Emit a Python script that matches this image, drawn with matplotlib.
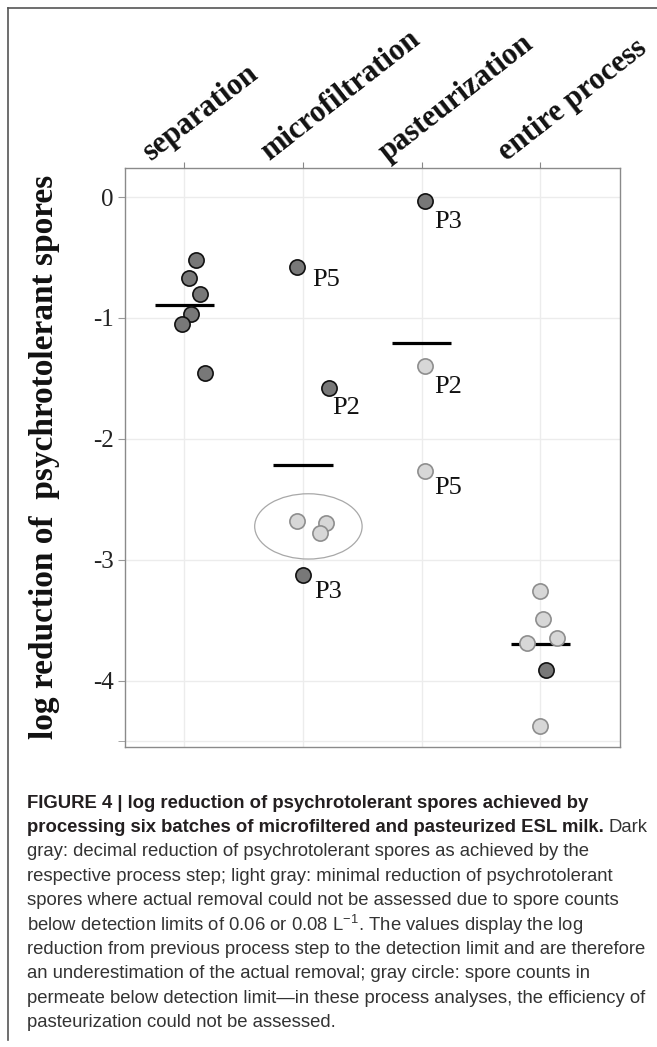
import matplotlib
matplotlib.use("Agg")
import matplotlib.pyplot as plt
import matplotlib.transforms as mtransforms
from matplotlib.patches import Ellipse
from matplotlib.lines import Line2D

# data (log reduction per process step)
categories = ["separation", "microfiltration", "pasteurization", "entire process"]

sep_values = [-0.52, -0.67, -0.80, -0.97, -1.05, -1.46]
sep_kind = ["dark"] * 6
sep_labels = [""] * 6

mf_values = [-0.58, -1.58, -2.68, -2.70, -2.78, -3.13]
mf_kind = ["dark", "dark", "light", "light", "light", "dark"]
mf_labels = ["P5", "P2", "", "", "", "P3"]

past_values = [-0.03, -1.40, -2.27]
past_kind = ["dark", "light", "light"]
past_labels = ["P3", "P2", "P5"]

ent_values = [-3.26, -3.49, -3.65, -3.69, -3.91, -4.38]
ent_kind = ["light", "light", "light", "light", "dark", "light"]
ent_labels = [""] * 6

means = [-0.89, -2.22, -1.21, -3.70]

# horizontal jitter of the points, as drawn
sep_jitter = [0.10, 0.04, 0.13, 0.06, -0.02, 0.175]
mf_jitter = [-0.05, 0.215, -0.05, 0.19, 0.14, 0.0]
past_jitter = [0.025, 0.025, 0.025]
ent_jitter = [0.0, 0.02, 0.14, -0.11, 0.05, 0.0]

# label offsets (pixels right, pixels down) from the point
label_offsets = {
    (1, "P5"): (15, 13), (1, "P2"): (4, 20), (1, "P3"): (11, 17),
    (2, "P3"): (9, 21), (2, "P2"): (9, 21), (2, "P5"): (9, 17),
}

caption_bold = [
    "FIGURE 4 | log reduction of psychrotolerant spores achieved by",
    "processing six batches of microfiltered and pasteurized ESL milk.",
]
caption_rest = [
    "gray: decimal reduction of psychrotolerant spores as achieved by the",
    "respective process step; light gray: minimal reduction of psychrotolerant",
    "spores where actual removal could not be assessed due to spore counts",
    "below detection limits of 0.06 or 0.08 L$^{-1}$. The values display the log",
    "reduction from previous process step to the detection limit and are therefore",
    "an underestimation of the actual removal; gray circle: spore counts in",
    "permeate below detection limit\u2014in these process analyses, the efficiency of",
    "pasteurization could not be assessed.",
]

plt.rcParams["mathtext.fontset"] = "custom"
plt.rcParams["mathtext.rm"] = "Liberation Sans"

W, H = 657, 1047
fig = plt.figure(figsize=(W / 100, H / 100), dpi=100)
ax = fig.add_axes([125 / W, 1 - 747 / H, (620 - 125) / W, (747 - 168) / H])

PX = 0.72  # points per pixel
styles = {
    "dark": dict(facecolor="#787878", edgecolor="#111111"),
    "light": dict(facecolor="#d7d7d7", edgecolor="#8e8e8e"),
}

groups = [
    (sep_values, sep_kind, sep_labels, sep_jitter),
    (mf_values, mf_kind, mf_labels, mf_jitter),
    (past_values, past_kind, past_labels, past_jitter),
    (ent_values, ent_kind, ent_labels, ent_jitter),
]

# mean bars
for i, m in enumerate(means):
    ax.plot([i + 1 - 0.25, i + 1 + 0.25], [m, m], color="black", lw=2.3,
            solid_capstyle="butt", zorder=3)

# ellipse around the light microfiltration points
ax.add_patch(Ellipse((2.045, -2.725), 0.905, 0.54, fill=False,
                     edgecolor="#a8a8a8", lw=0.9, zorder=2))

for i, (vals, kinds, labels, jit) in enumerate(groups):
    for v, k, lab, j in zip(vals, kinds, labels, jit):
        x = i + 1 + j
        ax.scatter([x], [v], s=120, linewidths=1.2, zorder=4, **styles[k])
        if lab:
            dx, dy = label_offsets[(i, lab)]
            ax.annotate(lab, (x, v), xytext=(dx * PX, -dy * PX),
                        textcoords="offset points", ha="left", va="center",
                        family="Liberation Serif", fontsize=19, color="#111111")

ax.set_xlim(0.5, 4.67)
ax.set_ylim(-4.55, 0.24)
ax.set_yticks([0, -1, -2, -3, -4])
ax.set_yticklabels(["0", "-1", "-2", "-3", "-4"], family="Liberation Serif",
                   fontsize=18, color="#222222")
ax.set_yticks([-4.5], minor=True)
ax.set_xticks(range(1, 5))
ax.tick_params(axis="x", which="both", bottom=False, labelbottom=False,
               top=True, labeltop=False, length=4, color="#888888")
ax.tick_params(axis="y", which="both", length=5, color="#999999", pad=3)
ax.grid(True, which="both", color="#ececec", lw=1, zorder=0)
ax.set_axisbelow(True)
for sp in ax.spines.values():
    sp.set_color("#8a8a8a")
    sp.set_linewidth(1.0)

# category labels above the panel, rotated
for i, cat in enumerate(categories):
    tr = mtransforms.blended_transform_factory(ax.transData, ax.transAxes) + \
        mtransforms.ScaledTranslation(-34 / 100, 7 / 100, fig.dpi_scale_trans)
    ax.text(i + 1, 1, cat, transform=tr, rotation=38, rotation_mode="anchor",
            ha="left", va="baseline", family="Liberation Serif",
            fontweight="bold", fontsize=22, color="#111111")

ax.set_ylabel("log reduction of  psychrotolerant spores", family="Liberation Serif",
              fontweight="bold", fontsize=24, color="#111111")
ax.yaxis.set_label_coords(60 / W, 1 - 457 / H, transform=fig.transFigure)

# outer frame (top and left only)
fig.add_artist(Line2D([8 / W, 1], [1 - 8 / H, 1 - 8 / H], color="#555555", lw=1.2,
                      transform=fig.transFigure))
fig.add_artist(Line2D([8 / W, 8 / W], [1 - 8 / H, 1 - 1040 / H], color="#555555",
                      lw=1.2, transform=fig.transFigure))

# caption
cap_x = 27 / W
y0 = 803
step = 24.4
cap_size = 13.3
fig.text(cap_x, 1 - y0 / H, caption_bold[0], family="Liberation Sans",
         fontweight="bold", fontsize=cap_size, color="#231f20", va="center")
t2 = fig.text(cap_x, 1 - (y0 + step) / H, caption_bold[1], family="Liberation Sans",
              fontweight="bold", fontsize=cap_size, color="#231f20", va="center")
fig.canvas.draw()
bb = t2.get_window_extent()
fig.text((bb.x1 + 5) / W, 1 - (y0 + step) / H, "Dark", family="Liberation Sans",
         fontsize=cap_size, color="#333333", va="center")
for k, line in enumerate(caption_rest):
    fig.text(cap_x, 1 - (y0 + step * (k + 2)) / H, line, family="Liberation Sans",
             fontsize=cap_size, color="#333333", va="center")

fig.savefig("out.png", dpi=100)
